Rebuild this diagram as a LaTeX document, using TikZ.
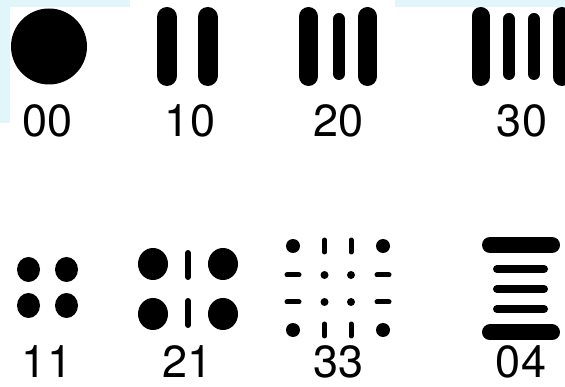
\documentclass[tikz,border=0pt]{standalone}
\usepackage{fontspec}
\setmainfont{TeX Gyre Heros}
\usepackage{tikz}
\usetikzlibrary{positioning}
\definecolor{PaleCyan}{HTML}{E0F6FB}
\tikzset{
  digits/.style={inner sep=0pt,font=\fontsize{45}{45}\selectfont},
  bar/.style={line cap=round,line width=#1},
}

\begin{document}
\begin{tikzpicture}[x=1pt,y=-1pt]
  \useasboundingbox (0,0) rectangle (565,387);
  \fill[PaleCyan] (0,0) rectangle (130,7);
  \fill[PaleCyan] (0,0) rectangle (10,123);
  \fill[PaleCyan] (395,0) rectangle (565,7);
  % top row
  \fill (49,46.5) circle (38pt);
  \foreach \x in {167,207.5}{\draw[bar=20pt] (\x,17) -- (\x,76);}
  \foreach \x in {308.5,367.5}{\draw[bar=19pt] (\x,16.5) -- (\x,76.5);}
  \draw[bar=12pt] (339,19) -- (339,74);
  \foreach \x in {480.5,562}{\draw[bar=18pt] (\x,16) -- (\x,77);}
  \foreach \x in {509,534}{\draw[bar=12pt] (\x,19) -- (\x,74);}
  \node[digits] (l00) at (47.5,121) {00};
  \node[digits] (l10) at (190,121) {10};
  \node[digits] (l20) at (338.5,121) {20};
  \node[digits] (l30) at (522,121) {30};
  % bottom row
  \foreach \x/\y in {28.5/269.5,66.5/269.5,28.5/305.5,66.5/305.5}{\fill (\x,\y) ellipse (11.5pt and 12.5pt);}
  \foreach \x/\y in {153/264,223/264,153/314,223/314}{\fill (\x,\y) ellipse (15pt and 16pt);}
  \draw[bar=6pt] (188,253) -- (188,277);
  \draw[bar=6pt] (188,301) -- (188,325);
  \foreach \x/\y in {293/246,383/246,293/330,383/330}{\fill (\x,\y) circle (7pt);}
  \foreach \x/\y in {324.5/246,351/246,324.5/330,351/330}{\draw[bar=5pt] (\x,\y-6) -- (\x,\y+6);}
  \foreach \x/\y in {293/275,383/275,293/302,383/302}{\draw[bar=5pt] (\x-6,\y) -- (\x+6,\y);}
  \foreach \x/\y in {324.5/275,351/275,324.5/302,351/302}{\fill (\x,\y) circle (4pt);}
  \draw[bar=16pt] (490,245) -- (552,245);
  \foreach \y in {269,289,309}{\draw[bar=8pt] (497,\y) -- (544,\y);}
  \draw[bar=16pt] (490,332.5) -- (552,332.5);
  \node[digits] (l11) at (47,362) {11};
  \node[digits] (l21) at (187.5,362) {21};
  \node[digits] (l33) at (338.5,362) {33};
  \node[digits] (l04) at (521,362) {04};
\end{tikzpicture}
\end{document}
